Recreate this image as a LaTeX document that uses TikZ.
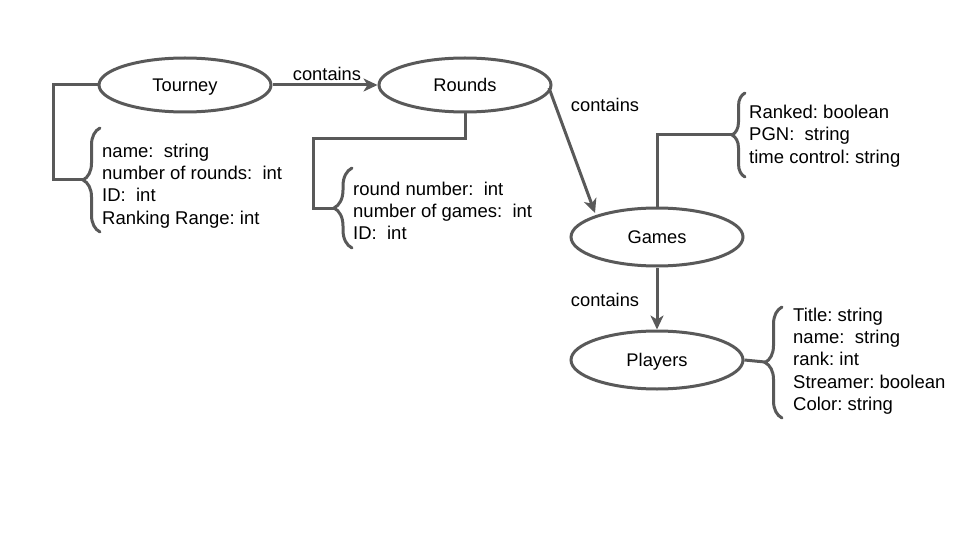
\documentclass[tikz,border=0pt]{standalone}
\usepackage{fontspec}
\setmainfont{Liberation Sans}
\usetikzlibrary{shapes.geometric,arrows.meta,decorations.pathreplacing}
\definecolor{lc}{HTML}{595959}
\begin{document}
\frenchspacing
\begin{tikzpicture}[x=1pt,y=-1pt,
  ent/.style={ellipse, draw=lc, line width=3pt, minimum width=172pt, minimum height=54pt, inner sep=0pt, text height=13pt, text depth=0pt, font=\fontsize{18.3}{22}\selectfont},
  conn/.style={draw=lc, line width=3pt},
  arr/.style={conn, -{Stealth[length=14pt,width=13pt,inset=4pt]}},
  attrs/.style={align=left, anchor=west, inner sep=0pt, font=\fontsize{18.5}{22.3}\selectfont},
  lbl/.style={inner sep=0pt, font=\fontsize{18.3}{22}\selectfont},
  br/.style={conn, line cap=round, decorate, decoration={brace, amplitude=#1}}
]
\useasboundingbox (0,0) rectangle (960,540);

% entities
\node[ent] (tourney) at (185,85) {Tourney};
\node[ent] (rounds) at (465,85) {Rounds};
\node[ent, minimum height=58pt] (games) at (657,237) {Games};
\node[ent, minimum height=58pt] (players) at (657,360) {Players};

% attribute texts
\node[attrs] (tatt) at (102,186) {name:\ \ string\\number of rounds:\ \ int\\ID:\ \ int\\Ranking Range: int};
\node[attrs] (ratt) at (353,211) {round number:\ \ int\\number of games:\ \ int\\ID:\ \ int};
\node[attrs] (gatt) at (749,136) {Ranked: boolean\\PGN:\ \ string\\time control: string};
\node[attrs] (patt) at (793,361) {Title: string\\name:\ \ string\\rank: int\\Streamer: boolean\\Color: string};

% braces
\draw[br=17pt] (100,232) -- (100,128);
\coordinate (ttip) at (83,180);
\draw[br=18pt] (352,248) -- (352,168);
\coordinate (rtip) at (334,208);
\draw[br=13pt] (745,177) -- (745,93);
\coordinate (gtip) at (732,135);
\draw[br=17pt] (782,418) -- (782,307);
\coordinate (ptip) at (765,362);

% connectors to braces
\draw[conn] (tourney.west) -- (53,85) -- (53,180) -- (ttip);
\draw[conn] (rounds.south) -- (465,139) -- (313,139) -- (313,208) -- (rtip);
\draw[conn] (games.north) -- (657,135) -- (gtip);
\draw[conn] (players.east) -- (ptip);

% relations
\draw[arr] (tourney.east) -- (rounds.west);
\node[lbl] (c1) at (327,74) {contains};
\draw[arr] (549,88) -- (595,213);
\node[lbl] (c2) at (605,105) {contains};
\draw[arr] (games.south) -- (players.north);
\node[lbl] (c3) at (605,300) {contains};
\end{tikzpicture}
\end{document}
